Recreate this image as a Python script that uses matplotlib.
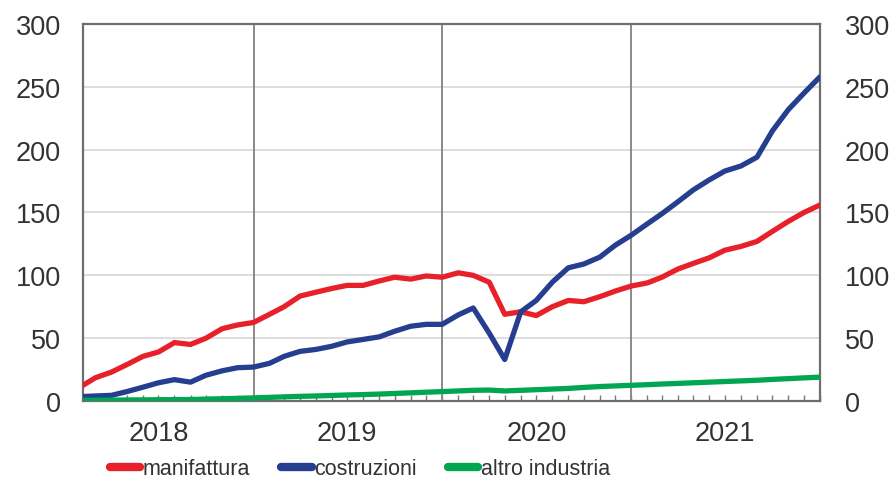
import matplotlib
matplotlib.use("Agg")
import matplotlib.pyplot as plt
import matplotlib.dates as mdates
import pandas as pd
import numpy as np

# monthly observations, Feb 2018 .. Jan 2022 (start of month)
dates = pd.date_range("2018-02-01", "2022-01-01", freq="MS")

manifattura = [11.5, 18.5, 23, 29, 35.5, 39, 46.5, 45, 50, 57.5, 60.5, 62.5,
               69, 75, 83.5, 86.5, 89.5, 92, 92, 95.5, 98.5, 97, 99.5, 98.5,
               102, 100, 94.5, 69, 71, 68, 75, 80, 79, 83, 87.5, 91.5,
               94, 98.5, 105, 109.5, 114, 120, 123, 127, 135, 143, 150, 156]

costruzioni = [3.5, 4, 4.5, 7.5, 11, 14.5, 17, 15, 20.5, 24, 26.5, 27,
               30, 35.5, 39.5, 41, 43.5, 47, 49, 51, 55.5, 59.5, 61, 61,
               68.5, 74, 54, 33, 71, 80, 94.5, 106, 109, 114.5, 124, 132,
               141, 149, 158.5, 168, 176, 183, 187, 194, 215, 232, 245, 258]

altro_industria = [0.5, 0.6, 0.7, 0.8, 0.9, 1.0, 1.1, 1.2, 1.5, 1.8, 2.1, 2.5,
                   2.9, 3.3, 3.7, 4.0, 4.4, 4.8, 5.1, 5.5, 6.0, 6.5, 7.0, 7.5,
                   8.0, 8.5, 8.7, 8.0, 8.5, 9.0, 9.5, 10.0, 10.8, 11.5, 12.0, 12.5,
                   13.0, 13.5, 14.0, 14.5, 15.0, 15.5, 16.0, 16.5, 17.2, 17.8, 18.4, 19.0]

series_names = ["manifattura", "costruzioni", "altro industria"]
colors = ["#e8202a", "#263e8f", "#00a651"]
year_labels = ["2018", "2019", "2020", "2021"]
y_ticks = [0, 50, 100, 150, 200, 250, 300]

plt.rcParams["font.family"] = ["Liberation Sans", "DejaVu Sans"]

fig = plt.figure(figsize=(8.95, 4.81), dpi=100)
ax = fig.add_axes([83/895, 1-402/481, (820-83)/895, (402-25)/481])

for vals, name, c in zip([manifattura, costruzioni, altro_industria], series_names, colors):
    ax.plot(dates, vals, color=c, lw=3.8, label=name, solid_capstyle="round", zorder=3)

ax.set_ylim(0, 300)
ax.set_xlim(pd.Timestamp("2018-02-05"), pd.Timestamp("2022-01-01"))
ax.set_yticks(y_ticks)
ax.yaxis.grid(True, color="#dedede", lw=1.4)
ax.set_axisbelow(True)

# year separators
for yr in [2019, 2020, 2021]:
    ax.axvline(pd.Timestamp(f"{yr}-01-01"), color="#8a8a8a", lw=1.4, zorder=1)

# monthly ticks (inside), year labels centred on each year
ax.xaxis.set_major_locator(mdates.MonthLocator(bymonth=7))
ax.xaxis.set_major_formatter(plt.FixedFormatter(year_labels))
ax.xaxis.set_minor_locator(mdates.MonthLocator())
ax.tick_params(axis="x", which="both", direction="in", length=4.5, width=1.0, color="#777777")
ax.tick_params(axis="x", which="major", pad=14, labelsize=19.5, labelcolor="#333333")
ax.tick_params(axis="y", length=0, pad=16, labelsize=19.5, labelcolor="#333333")

for s in ["left", "right", "top", "bottom"]:
    ax.spines[s].set_color("#6e6e6e")
    ax.spines[s].set_linewidth(1.6)

ax2 = ax.twinx()
ax2.set_ylim(0, 300)
ax2.set_yticks(y_ticks)
ax2.tick_params(axis="y", length=0, pad=18, labelsize=19.5, labelcolor="#333333")
for s in ax2.spines.values():
    s.set_visible(False)

handles, labels = ax.get_legend_handles_labels()
leg = fig.legend(handles, labels, loc="center", bbox_to_anchor=(360/895, 1-470/481), ncol=3,
                 frameon=False, handlelength=1.4, handletextpad=0.12, columnspacing=1.45,
                 prop={"size": 15.5})
for lh in leg.get_lines():
    lh.set_linewidth(6)
    lh.set_solid_capstyle("round")
for t in leg.get_texts():
    t.set_color("#333333")

fig.savefig("out.png", dpi=100)
